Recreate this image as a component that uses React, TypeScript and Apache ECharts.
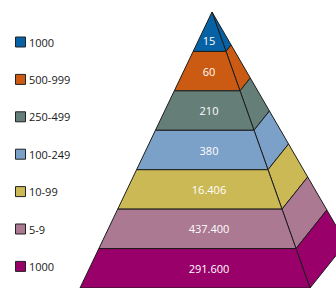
import React, { useEffect, useRef } from "react";
import * as echarts from "echarts";

const categories = ["1000", "500-999", "250-499", "100-249", "10-99", "5-9", "1000"];
const values = [15, 60, 210, 380, 16406, 437400, 291600];
const colors = ["#0762a5", "#cb5a13", "#657e78", "#7ba1c9", "#cbb956", "#ab7991", "#99006a"];

const fmt = (v: number) => String(v).replace(/\B(?=(\d{3})+(?!\d))/g, ".");

export default function App() {
  const ref = useRef<HTMLDivElement>(null);
  useEffect(() => {
    if (!ref.current) return;
    const chart = echarts.init(ref.current, null, { renderer: "svg" });
    const n = values.length;
    const FLX = -132, FRX = 98, BRX = 134, BRDY = -1.1415;
    const fl = (k: number) => [FLX * (k / n), k];
    const fr = (k: number) => [FRX * (k / n), k];
    const br = (k: number) => [BRX * (k / n), k + BRDY * (k / n)];
    const stroke = "#1c1c1c";
    const font = '"Open Sans", sans-serif';

    const legendGraphics: any[] = [];
    categories.forEach((c, i) => {
      const cy = 42 + i * 37.4;
      legendGraphics.push({
        type: "rect",
        shape: { x: 15.5, y: cy - 5, width: 10, height: 10 },
        style: { fill: colors[i], stroke: "#222", lineWidth: 1 },
      });
      legendGraphics.push({
        type: "text",
        x: 29,
        y: cy,
        style: { text: c, fill: "#1a1a1a", fontSize: 11, fontFamily: font, verticalAlign: "middle", align: "left" },
      });
    });

    chart.setOption({
      animation: false,
      grid: { left: 0, right: 0, top: 12, bottom: -3 },
      xAxis: { type: "value", min: -212, max: 124, show: false },
      yAxis: { type: "value", min: 0, max: n, inverse: true, show: false },
      graphic: legendGraphics,
      series: [
        {
          type: "custom",
          clip: false,
          data: values.map((v, i) => [i, v]),
          renderItem: (params: any, api: any) => {
            const i = params.dataIndex;
            const c = (p: number[]) => api.coord(p);
            const front = [c(fl(i)), c(fr(i)), c(fr(i + 1)), c(fl(i + 1))];
            const side = [c(fr(i)), c(br(i)), c(br(i + 1)), c(fr(i + 1))];
            const ly = i === 0 ? 0.72 : i + 0.5;
            const lp = c([-3, ly]);
            return {
              type: "group",
              children: [
                { type: "polygon", shape: { points: side }, style: { fill: colors[i], stroke, lineWidth: 1 } },
                { type: "polygon", shape: { points: front }, style: { fill: colors[i], stroke, lineWidth: 1 } },
                {
                  type: "text",
                  x: lp[0],
                  y: lp[1],
                  style: { text: fmt(values[i]), fill: "#ffffff", fontSize: 11, fontFamily: font, align: "center", verticalAlign: "middle" },
                },
              ],
            };
          },
        },
      ],
    });
    return () => chart.dispose();
  }, []);
  return <div ref={ref} style={{ width: 336, height: 288, position: "absolute", left: 0, top: 0 }} />;
}
